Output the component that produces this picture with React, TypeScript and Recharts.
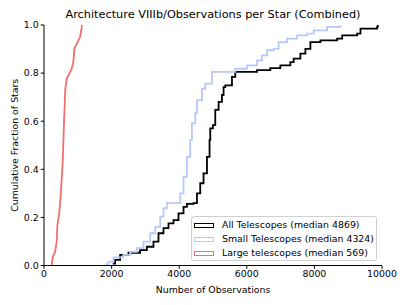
import { Line, LineChart, XAxis, YAxis } from 'recharts';

// step vertices: observations per star -> cumulative fraction
const allObs = [2035, 2104, 2252, 2498, 2844, 3043, 3239, 3387, 3535, 3683, 3831, 3979, 4128, 4228, 4424, 4525, 4622, 4720, 4821, 4898, 4919, 4998, 5067, 5165, 5265, 5313, 5363, 5561, 5659, 6302, 6696, 6993, 7289, 7387, 7585, 7733, 7881, 8178, 8673, 8821, 9265, 9363, 9858, 9876];
const allFrac = [0.008, 0.023, 0.044, 0.053, 0.064, 0.078, 0.099, 0.134, 0.155, 0.175, 0.189, 0.217, 0.244, 0.256, 0.259, 0.3, 0.342, 0.383, 0.452, 0.522, 0.57, 0.584, 0.647, 0.68, 0.709, 0.742, 0.749, 0.784, 0.805, 0.812, 0.821, 0.832, 0.846, 0.86, 0.881, 0.901, 0.929, 0.936, 0.943, 0.957, 0.964, 0.985, 0.992, 1.0];

const smallObs = [1807, 1905, 2053, 2350, 2548, 2747, 2942, 3141, 3289, 3437, 3535, 3636, 4030, 4128, 4228, 4326, 4376, 4474, 4525, 4673, 4770, 4969, 5659, 6006, 6302, 6450, 6599, 6794, 6942, 7191, 7487, 7784, 7979, 8376, 8770];
const smallFrac = [0.005, 0.016, 0.034, 0.044, 0.057, 0.072, 0.099, 0.134, 0.161, 0.203, 0.238, 0.259, 0.3, 0.369, 0.452, 0.522, 0.591, 0.633, 0.688, 0.735, 0.756, 0.805, 0.818, 0.832, 0.853, 0.874, 0.895, 0.901, 0.929, 0.943, 0.957, 0.964, 0.978, 0.992, 1.0];

const largeObs = [228, 258, 326, 376, 394, 444, 495, 554, 593, 631, 673, 750, 821, 868, 898, 969, 1067, 1117, 1120];
const largeFrac = [0, 0.035, 0.056, 0.098, 0.167, 0.209, 0.292, 0.43, 0.597, 0.735, 0.777, 0.798, 0.818, 0.846, 0.901, 0.922, 0.95, 0.99, 1.0];

const xTicks = [0, 2000, 4000, 6000, 8000, 10000];
const yTicks = [0, 0.2, 0.4, 0.6, 0.8, 1.0];

const series = [
  { name: 'All Telescopes (median 4869)', color: '#000000', xs: allObs, ys: allFrac, type: 'stepAfter' },
  { name: 'Small Telescopes (median 4324)', color: '#b7c9fb', xs: smallObs, ys: smallFrac, type: 'stepAfter' },
  { name: 'Large telescopes (median 569)', color: '#f56e6e', xs: largeObs, ys: largeFrac, type: 'linear' },
];

const FONT = '"DejaVu Sans", sans-serif';
const FS = 9.4;

function LegendBox() {
  return (
    <div style={{
      position: 'absolute', left: 191, top: 216, width: 186, height: 45,
      border: '1px solid #d0d0d0', borderRadius: 3, background: 'rgba(255,255,255,0.85)',
      padding: '1px 0 0 2px', boxSizing: 'border-box',
      fontFamily: FONT, fontSize: FS, lineHeight: 1, color: '#000',
    }}>
      {series.map(s => (
        <div key={s.name} style={{ display: 'flex', alignItems: 'center', height: 14 }}>
          <span style={{ width: 20, height: 5, border: `1.6px solid ${s.color}`, boxSizing: 'border-box', marginRight: 8, flexShrink: 0 }} />
          <span style={{ whiteSpace: 'nowrap' }}>{s.name}</span>
        </div>
      ))}
    </div>
  );
}

export default function App() {
  return (
    <div style={{ position: 'absolute', left: 0, top: 0, width: 407, height: 305, background: '#fff' }}>
      <div style={{
        position: 'absolute', left: 44, width: 338, top: 8, textAlign: 'center',
        fontFamily: FONT, fontSize: 11.3, color: '#000', whiteSpace: 'nowrap',
      }}>
        Architecture VIIIb/Observations per Star (Combined)
      </div>
      <LineChart width={407} height={305} margin={{ top: 25, right: 25, bottom: 0, left: 0 }}
        style={{ fontFamily: FONT }}>
        <XAxis xAxisId="b" type="number" dataKey="x" domain={[0, 10000]} ticks={xTicks}
          allowDataOverflow height={39.5} stroke="#000" tickSize={3.3} tickMargin={2}
          tick={{ fill: '#000', fontSize: FS }}
          label={{ value: 'Number of Observations', position: 'insideBottom', offset: 12, fill: '#000', fontSize: FS }} />
        <XAxis xAxisId="t" orientation="top" type="number" domain={[0, 10000]} height={0}
          stroke="#000" tick={false} tickLine={false} />
        <YAxis yAxisId="l" type="number" domain={[0, 1]} ticks={yTicks} width={44}
          stroke="#000" tickSize={3.3} tickMargin={2}
          tick={{ fill: '#000', fontSize: FS }} tickFormatter={(v: number) => v.toFixed(1)}
          label={{ value: 'Cumulative Fraction of Stars', angle: -90, position: 'insideLeft', offset: 15, fill: '#000', fontSize: FS, style: { textAnchor: 'middle' } }} />
        <YAxis yAxisId="r" orientation="right" type="number" domain={[0, 1]} width={0}
          stroke="#000" tick={false} tickLine={false} />
        {series.map(s => (
          <Line key={s.name} xAxisId="b" yAxisId="l" name={s.name} type={s.type as any}
            data={s.xs.map((x, i) => ({ x, y: s.ys[i] }))} dataKey="y"
            stroke={s.color} strokeWidth={1.8} dot={false} isAnimationActive={false} />
        ))}
      </LineChart>
      <LegendBox />
    </div>
  );
}
